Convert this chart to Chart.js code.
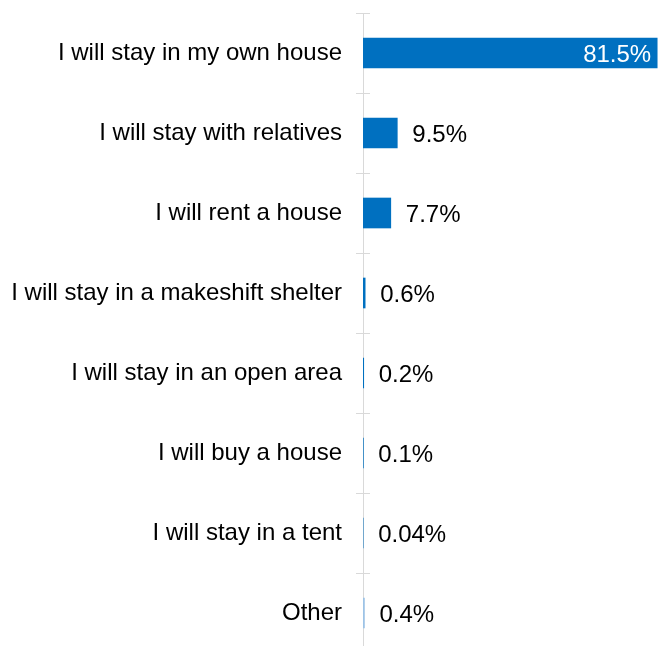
<!DOCTYPE html>
<html>
<head>
<meta charset="utf-8">
<script src="https://cdn.jsdelivr.net/npm/chart.js@4/dist/chart.umd.min.js"></script>
<style>
  body { margin: 0; background: #fff; overflow: hidden; }
  #wrap { width: 659px; height: 660px; position: relative; }
</style>
</head>
<body>
<div id="wrap"><canvas id="chart"></canvas></div>
<script>
let categories = [
    "I will stay in my own house",
    "I will stay with relatives",
    "I will rent a house",
    "I will stay in a makeshift shelter",
    "I will stay in an open area",
    "I will buy a house",
    "I will stay in a tent",
    "Other"
];
let values = [81.5, 9.5, 7.7, 0.6, 0.2, 0.1, 0.04, 0.4];
let valueLabels = ["81.5%", "9.5%", "7.7%", "0.6%", "0.2%", "0.1%", "0.04%", "0.4%"];
let barColors = ["#0070C0", "#0070C0", "#0070C0", "#0070C0", "#0070C0", "#0070C0", "#0070C0", "#9DC3E6"];

// short ticks that cross the axis line on both sides
const crossTicks = {
    id: "crossTicks",
    afterDraw(chart) {
        let y = chart.scales.y;
        let ctx = chart.ctx;
        let x = chart.chartArea.left;
        let step = y.getPixelForValue(1) - y.getPixelForValue(0);
        ctx.save();
        ctx.strokeStyle = "#d9d9d9";
        ctx.lineWidth = 1;
        for (let i = 0; i < categories.length; i++) {
            let py = Math.round(y.getPixelForValue(i) - step / 2) + 0.5;
            ctx.beginPath();
            ctx.moveTo(x, py);
            ctx.lineTo(x + 7, py);
            ctx.stroke();
        }
        ctx.restore();
    }
};

const barLabels = {
    id: "barLabels",
    afterDatasetsDraw(chart) {
        let ctx = chart.ctx;
        let meta = chart.getDatasetMeta(0);
        ctx.save();
        ctx.font = "24px 'Liberation Sans', Arial, sans-serif";
        ctx.textBaseline = "alphabetic";
        meta.data.forEach((bar, i) => {
            if (i === 0) {
                ctx.fillStyle = "#ffffff";
                ctx.textAlign = "right";
                ctx.fillText(valueLabels[i], bar.x - 6, bar.y + 9);
            } else {
                ctx.fillStyle = "#000000";
                ctx.textAlign = "left";
                ctx.fillText(valueLabels[i], bar.x + 15, bar.y + 9);
            }
        });
        ctx.restore();
    }
};

new Chart(document.getElementById("chart"), {
    type: "bar",
    data: {
        labels: categories,
        datasets: [{
            data: values,
            backgroundColor: barColors,
            barThickness: 30,
            borderWidth: 0
        }]
    },
    options: {
        indexAxis: "y",
        responsive: true,
        maintainAspectRatio: false,
        animation: false,
        layout: { padding: { top: 13, bottom: 7, right: 0 } },
        plugins: {
            legend: { display: false },
            tooltip: { enabled: false }
        },
        scales: {
            x: {
                display: false,
                min: 0,
                max: 82
            },
            y: {
                afterFit(scale) {
                    scale.width = 363;
                    scale.paddingTop = 0;
                    scale.paddingBottom = 0;
                },
                grid: {
                    display: true,
                    drawOnChartArea: false,
                    drawTicks: true,
                    tickLength: 7,
                    color: "#d9d9d9",
                    offset: true
                },
                border: { display: true, color: "#d9d9d9", width: 1 },
                ticks: {
                    color: "#000000",
                    padding: 14,
                    font: { family: "'Liberation Sans', Arial, sans-serif", size: 24 }
                }
            }
        }
    },
    plugins: [crossTicks, barLabels]
});
</script>
</body>
</html>
